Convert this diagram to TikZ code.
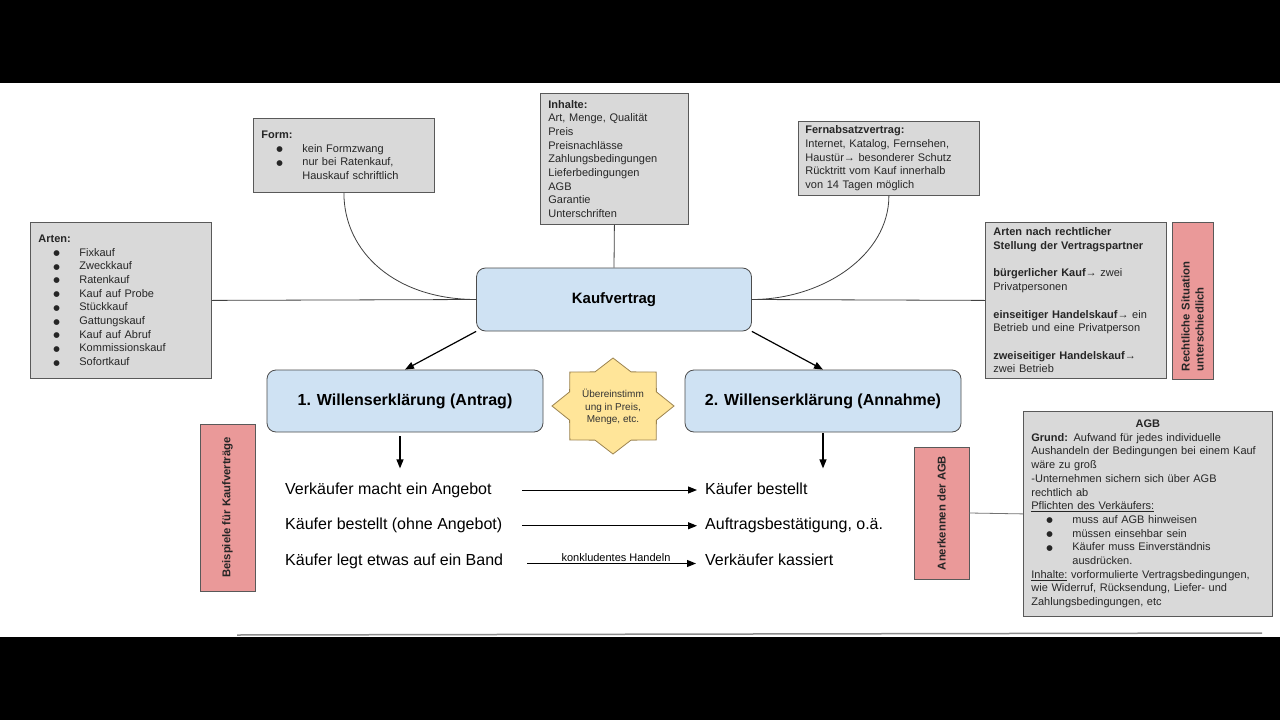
\documentclass[tikz,border=0pt]{standalone}
\usepackage{fontspec}
\setmainfont{Liberation Sans}
\newfontfamily\symfont{DejaVu Sans}
\usetikzlibrary{arrows.meta}
\definecolor{boxgray}{HTML}{D9D9D9}
\definecolor{boxline}{HTML}{595959}
\definecolor{willblue}{HTML}{CFE2F3}
\definecolor{tagred}{HTML}{EA9999}
\definecolor{starfill}{HTML}{FFE599}
\definecolor{starline}{HTML}{9C8450}
\newcommand{\boxfont}{\fontsize{11}{13.7}\selectfont}
\newcommand{\bul}[1]{\hspace*{15pt}\makebox[26pt][l]{\raisebox{0.5pt}{\symfont\fontsize{7.5}{7.5}\selectfont ●}}#1}
\newcommand{\ind}[1]{\hspace*{41pt}#1}
\tikzset{
  infobox/.style={draw=boxline, fill=boxgray, line width=0.8pt, anchor=north west,
    inner xsep=8pt, inner ysep=0pt, align=left, text=black!85, font=\boxfont},
  willbox/.style={draw=black!70, fill=willblue, line width=0.8pt, rounded corners=9pt,
    font=\bfseries\fontsize{16}{19}\selectfont},
  tagbox/.style={draw=black!65, fill=tagred, line width=0.8pt, rotate=90,
    font=\bfseries\fontsize{11.3}{14}\selectfont, text=black!85},
  rowtext/.style={font=\fontsize{16}{19}\selectfont, inner sep=0pt,
    text height=12pt, text depth=4pt, anchor=base west},
  conn/.style={draw=black!75, line width=0.8pt},
  flow/.style={-{Triangle[length=9pt,width=7pt]}, line width=1.2pt},
}
\begin{document}
\begin{tikzpicture}[x=1pt,y=-1pt]
% video frame: black bars top and bottom
\fill[black] (0,0) rectangle (1280,720);
\fill[white] (0,83) rectangle (1280,637);
\draw[black!45, line width=1.5pt] (237,635) -- (1262,633);

% info boxes round the contract
\node[infobox, minimum width=181pt, minimum height=74pt, text width=165pt] (form) at (253,118)
  {\textbf{Form:}\\ \bul{kein Formzwang}\\ \bul{nur bei Ratenkauf,}\\ \ind{Hauskauf schriftlich}};
\node[infobox, minimum width=148pt, minimum height=131pt, text width=132pt] (inh) at (540,93)
  {\textbf{Inhalte:}\\ Art, Menge, Qualität\\ Preis\\ Preisnachlässe\\ Zahlungsbedingungen\\
   Lieferbedingungen\\ AGB\\ Garantie\\ Unterschriften};
\node[infobox, minimum width=181pt, minimum height=74pt, text width=167pt, inner xsep=7pt] (fern) at (798,121)
  {\textbf{Fernabsatzvertrag:}\\ Internet, Katalog, Fernsehen,\\ Haustür→ besonderer Schutz\\
   Rücktritt vom Kauf innerhalb\\ von 14 Tagen möglich};
\node[infobox, minimum width=181pt, minimum height=156pt, text width=165pt] (arten) at (30,222)
  {\textbf{Arten:}\\ \bul{Fixkauf}\\ \bul{Zweckkauf}\\ \bul{Ratenkauf}\\ \bul{Kauf auf Probe}\\
   \bul{Stückkauf}\\ \bul{Gattungskauf}\\ \bul{Kauf auf Abruf}\\ \bul{Kommissionskauf}\\ \bul{Sofortkauf}};
\node[infobox, minimum width=181pt, minimum height=156pt, text width=165pt] (artrecht) at (985,222)
  {\textbf{Arten nach rechtlicher}\\ \textbf{Stellung der Vertragspartner}\\[13.7pt]
   \textbf{bürgerlicher Kauf}→ zwei\\ Privatpersonen\\[13.7pt]
   \textbf{einseitiger Handelskauf}→ ein\\ Betrieb und eine Privatperson\\[13.7pt]
   \textbf{zweiseitiger Handelskauf}→\\ zwei Betrieb};
\node[infobox, minimum width=249pt, minimum height=205pt, text width=233pt] (agb) at (1023,411)
  {\makebox[233pt]{\textbf{AGB}}\\
   \textbf{Grund:} Aufwand für jedes individuelle\\ Aushandeln der Bedingungen bei einem Kauf\\
   wäre zu groß\\ -Unternehmen sichern sich über AGB\\ rechtlich ab\\
   \underline{Pflichten des Verkäufers:}\\ \bul{muss auf AGB hinweisen}\\ \bul{müssen einsehbar sein}\\
   \bul{Käufer muss Einverständnis}\\ \ind{ausdrücken.}\\
   \underline{Inhalte:} vorformulierte Vertragsbedingungen,\\ wie Widerruf, Rücksendung, Liefer- und\\
   Zahlungsbedingungen, etc};

% red side tags (rotated)
\node[tagbox, minimum width=157pt, minimum height=41pt, text width=141pt, align=left, inner xsep=8pt]
  (recht) at (1192.5,300.5) {Rechtliche Situation\\ unterschiedlich};
\node[tagbox, minimum width=167pt, minimum height=55pt, align=center] (beisp) at (227.5,507.5)
  {Beispiele für Kaufverträge};
\node[tagbox, minimum width=132pt, minimum height=55pt, align=center] (anerk) at (941.5,513)
  {Anerkennen der AGB};

% contract and the two declarations
\node[willbox, font=\bfseries\fontsize{15}{18}\selectfont, minimum width=275pt, minimum height=63pt]
  (kauf) at (614,299.5) {Kaufvertrag};
\node[willbox, minimum width=276pt, minimum height=62pt] (antrag) at (405,401) {1. Willenserklärung (Antrag)};
\node[willbox, minimum width=276pt, minimum height=62pt] (annahme) at (823,401) {2. Willenserklärung (Annahme)};

% 8-point star between the declarations
\filldraw[fill=starfill, draw=starline, line width=0.8pt] (674,406)
  \foreach \i in {1,...,15} {
    -- ({613+61*(1-0.23*mod(\i,2))*cos(\i*22.5)}, {406-48*(1-0.23*mod(\i,2))*sin(\i*22.5)})
  } -- cycle;
\node[font=\fontsize{10}{12.5}\selectfont, align=center, text=black!80] (match) at (613,407)
  {Übereinstimm\\ung in Preis,\\Menge, etc.};

% lines into the contract
\draw[conn] (arten.east) -- (kauf.west);
\draw[conn] (form.south) .. controls +(0,60) and +(-80,0) .. (kauf.west);
\draw[conn] (inh.south) -- (kauf.north);
\draw[conn] (fern.south) .. controls +(0,60) and +(70,0) .. (kauf.east);
\draw[conn] (kauf.east) -- (artrecht.west);
\draw[conn, black!55] (anerk.south) -- (agb.west);

% arrows out of the contract
\draw[flow] (kauf.south west) -- (antrag.north);
\draw[flow] (kauf.south east) -- (annahme.north);
\coordinate (antragdown) at ([xshift=-5pt,yshift=-36pt]antrag.south);
\coordinate (annahmedown) at ([yshift=-36pt]annahme.south);
\draw[flow] ([xshift=-5pt,yshift=-4pt]antrag.south) -- (antragdown);
\draw[flow] ([yshift=-1pt]annahme.south) -- (annahmedown);

% examples: offer -> acceptance
\foreach \i/\vtxt/\ktxt in {1/{Verkäufer macht ein Angebot}/{Käufer bestellt},
    2/{Käufer bestellt (ohne Angebot)}/{Auftragsbestätigung, o.ä.},
    3/{Käufer legt etwas auf ein Band}/{Verkäufer kassiert}} {
  \pgfmathsetmacro{\yb}{494+(\i-1)*35.75}
  \node[rowtext] (v\i) at (285,\yb) {\vtxt};
  \node[rowtext] (k\i) at (705,\yb) {\ktxt};
}
\coordinate (arrowcol) at (522,0);
\coordinate (arrowcolb) at (527,0);
\foreach \i in {1,2} {
  \draw[flow, line width=1pt, shorten >=8pt] (v\i.east -| arrowcol) -- (k\i.west);
}
\draw[flow, line width=1pt, shorten >=9pt] ([yshift=-2pt]v3.east -| arrowcolb)
  -- node[above, font=\fontsize{11}{13}\selectfont, inner sep=1.5pt] (handeln) {konkludentes Handeln}
  ([yshift=-2pt]k3.west);
\end{tikzpicture}
\end{document}
